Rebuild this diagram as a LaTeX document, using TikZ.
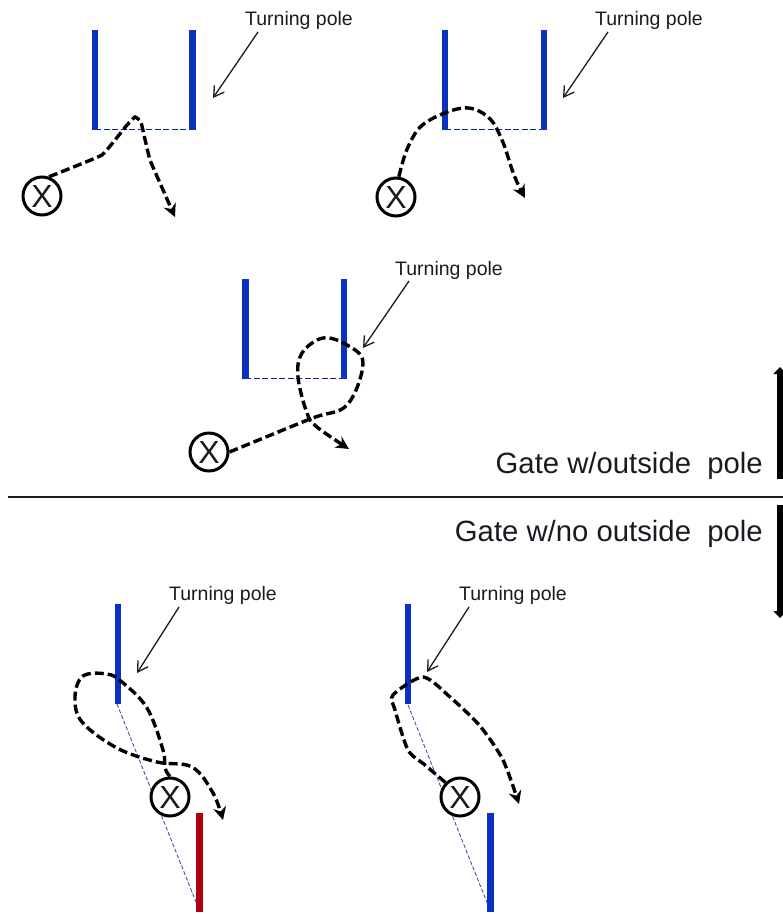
\documentclass[tikz,border=0pt]{standalone}
\usepackage{fontspec}
\setmainfont{Liberation Sans}
\usetikzlibrary{arrows.meta}
\definecolor{poleblue}{HTML}{0A32BE}
\definecolor{polered}{HTML}{B0000F}
\definecolor{ink}{HTML}{1A1A22}
\tikzset{
  polebar/.style={line width=#1,draw=poleblue},
  polebar/.default=6pt,
  redbar/.style={line width=7pt,draw=polered},
  gateline/.style={draw=poleblue!75!black,line width=1pt,dash pattern=on 6pt off 2.5pt},
  diagline/.style={draw=poleblue!75!white!85!black,line width=0.9pt,dash pattern=on 4pt off 2pt},
  skier/.style={circle,draw=black,line width=3pt,fill=white,minimum size=38pt,inner sep=0pt,text=ink,font=\fontsize{32}{32}\selectfont},
  course/.style={draw=black,line width=3.4pt,dash pattern=on 9pt off 4pt,-{Stealth[length=13pt,width=13pt]}},
  polelabel/.style={text=ink,inner sep=0pt,font=\fontsize{19.5}{19.5}\selectfont},
  pointer/.style={draw=ink,line width=1.3pt,-{Straight Barb[length=10pt,width=12pt,line width=1.3pt]}},
  gatetext/.style={text=ink,inner sep=0pt,anchor=base east,font=\fontsize{29.3}{29.3}\selectfont},
  bigarrow/.style={draw=black,line width=7pt,-{Triangle[length=7pt,width=13pt]}}
}
\begin{document}
\begin{tikzpicture}[x=1pt,y=-1pt]
\useasboundingbox (0,0) rectangle (783,914);
% ---- panel 1
\draw[gateline] (95,129) -- (192,129);
\draw[polebar] (95,30) -- (95,130);
\draw[polebar=7pt] (192.5,30) -- (192.5,130);
\node[skier] (xa) at (42,196) {X};
\coordinate (ea) at (175,217);
\draw[course] plot[smooth,tension=0.15] coordinates {(xa.70) (102,155) (127,125) (135,117) (141,122) (150,160) (ea)};
\node[polelabel] (la) at (299,20) {Turning pole};
\coordinate (ta) at (213,98);
\draw[pointer] (258,32) -- (ta);
% ---- panel 2
\draw[gateline] (445,129) -- (543,129);
\draw[polebar] (445,30) -- (445,130);
\draw[polebar] (543.5,30) -- (543.5,130);
\node[skier] (xb) at (396,197) {X};
\coordinate (eb) at (525,198);
\draw[course] plot[smooth,tension=0.6] coordinates {(xb.82) (408,147) (425,123) (463,108) (488,117) (502,140) (514,175) (eb)};
\node[polelabel] (lb) at (649,20) {Turning pole};
\coordinate (tb) at (563,98);
\draw[pointer] (608,32) -- (tb);
% ---- panel 3
\draw[gateline] (245,378) -- (343,378);
\draw[polebar=7pt] (245.5,279) -- (245.5,379);
\draw[polebar] (343.5,279) -- (343.5,379);
\node[skier] (xc) at (209,452) {X};
\coordinate (ec) at (349,449);
\draw[course] plot[smooth,tension=0.6] coordinates {(xc.east) (310,419) (347,405) (363,363) (347,345) (323,338) (302,353) (298,377) (307,413) (317,427) (ec)};
\node[polelabel] (lc) at (449,270) {Turning pole};
\coordinate (tc) at (363,348);
\draw[pointer] (409,281) -- (tc);
% ---- divider
\coordinate (da) at (8,497);
\coordinate (db) at (783,497);
\draw[draw=ink,line width=1.2pt] (da) -- (db);
\node[gatetext] (ga) at (763,473) {Gate w/outside\ \ pole};
\node[gatetext] (gb) at (763,541) {Gate w/no outside\ \ pole};
\coordinate (aa) at (780,479);
\coordinate (ab) at (780,367);
\draw[bigarrow] (aa) -- (ab);
\coordinate (ac) at (780,505);
\coordinate (ad) at (780,618);
\draw[bigarrow] (ac) -- (ad);
% ---- panel 4
\draw[diagline] (117,704) -- (198,907);
\draw[polebar] (118,604) -- (118,704);
\draw[redbar] (199.5,813) -- (199.5,912);
\node[skier] (xd) at (170,797) {X};
\coordinate (ed) at (223,820);
\draw[course] plot[smooth,tension=0.6] coordinates {(xd.north) (165,768) (163,750) (147,708) (122,682) (107,674) (83,676) (75,697) (82,722) (117,748) (157,762) (192,767) (213,793) (ed)};
\node[polelabel] (ld) at (223,595) {Turning pole};
\coordinate (td) at (137,673);
\draw[pointer] (179,607) -- (td);
% ---- panel 5
\draw[diagline] (408,705) -- (488,905);
\draw[polebar] (408,604) -- (408,704);
\draw[polebar=7pt] (490,813) -- (490,912);
\node[skier] (xe) at (460,797) {X};
\coordinate (ee) at (519,804);
\draw[course] plot[smooth,tension=0.45] coordinates {(xe.135) (425,765) (408,750) (395,710) (393,695) (423,677) (450,697) (480,726) (503,760) (ee)};
\node[polelabel] (le) at (513,595) {Turning pole};
\coordinate (te) at (427,672);
\draw[pointer] (469,607) -- (te);
\end{tikzpicture}
\end{document}
